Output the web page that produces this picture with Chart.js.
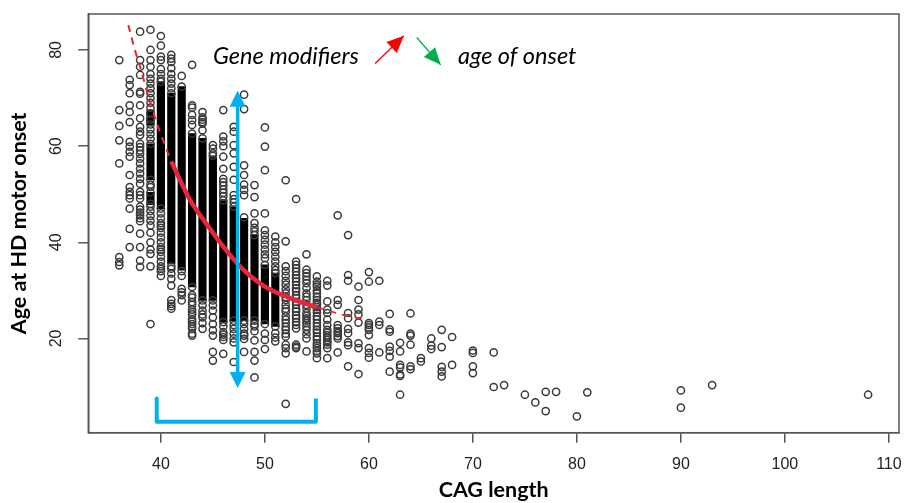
<!DOCTYPE html>
<html>
<head>
<meta charset="utf-8">
<title>Age at HD motor onset vs CAG length</title>
<script src="https://cdn.jsdelivr.net/npm/chart.js@4"></script>
<style>
  html, body { margin: 0; background: #fff; }
  canvas { display: block; }
</style>
</head>
<body>
<canvas id="chart" width="906" height="503"></canvas>
<script>
const xTicks = [40, 50, 60, 70, 80, 90, 100, 110];
const yTicks = [20, 40, 60, 80];

// open circles, ages read per CAG length
const cagLengths = [36, 37, 38, 39, 40, 41, 42, 43, 44, 45, 46, 47, 48, 49, 50, 51, 52, 53, 54, 55, 56, 57, 58, 59, 60, 61, 62, 63, 64, 65, 66, 67, 68, 70, 72, 73, 75, 76, 77, 78, 80, 81, 90, 93, 108];
const onsetAges = [
  [77.9, 67.5, 64.2, 61.2, 56.4, 36.9, 35.9, 35.2],
  [73.8, 72.7, 71, 68.5, 67.1, 65, 60.9, 59.9, 58.8, 57.8, 54, 51.5, 50.5, 49.8, 49.1, 47, 42.8, 39],
  [83.8, 77.9, 76.5, 74.8, 71.3, 70.9, 68.5, 65.8, 64, 63, 62.3, 60.5, 59.8, 59.1, 58.4, 57.4, 56.4, 55.3, 54.3, 53.2, 52.2, 50.5, 49.8, 49.1, 47.4, 46.8, 46.2, 45.6, 45, 44.4, 41.8, 39, 36.2, 34.9],
  [84.2, 80, 77.9, 76.5, 75, 74, 73, 72, 71, 70, 69, 68, 66.8, 65.5, 64.5, 63.5, 62.5, 61.5, 60.5, 53, 52, 51.5, 50.4, 48, 47.4, 46.5, 45.5, 44.5, 43.5, 42, 40, 38.5, 37.6, 35, 23],
  [82.9, 80.9, 78.6, 77.9, 76, 75, 74, 73.4, 47, 46, 45, 44, 43.5, 43, 42, 41, 40, 39, 38.5, 38, 37, 36, 35, 34.5, 34, 33],
  [79, 78.2, 77.5, 76.2, 75, 74, 73, 72, 71, 35, 34.5, 33.5, 32.4, 31, 28, 27.2, 26.7, 26.2],
  [74.6, 72.4, 34, 33, 30.3, 29.6, 29, 27.9],
  [76.9, 68.5, 68, 66.5, 65.4, 64.4, 62.6, 30.7, 29, 28.5, 27.6, 27, 26, 25.5, 25, 24, 23.5, 23, 22.5, 22, 21, 20.6],
  [67.1, 66, 65.5, 65, 64.7, 63.3, 61.6, 27.9, 26.9, 25.8, 25, 24.4, 23.2, 22],
  [60.2, 59.5, 58.5, 58, 27.9, 26.9, 25.8, 24.4, 23, 21.7, 20.6, 17.2, 15.4],
  [67.5, 62, 61, 60, 57.8, 55.3, 53.2, 52.5, 51.8, 51, 50.3, 49.6, 48.7, 23.4, 22.5, 21.3, 20.8, 20.3, 19.7, 16.8],
  [64, 63, 60.2, 58.5, 55.7, 53, 49.8, 49, 48.3, 47.4, 23.7, 22.8, 22, 21, 20, 19.2, 15.1],
  [70.7, 67.7, 56, 54, 52, 50.9, 49.8, 45.2, 23.7, 23, 22, 21, 20.6, 19.9, 17.2],
  [51.9, 49.4, 46, 44, 43, 42.3, 41.5, 23.7, 23, 22.5, 21.5, 19.6, 17.2, 15.4, 11.9],
  [63.9, 59.9, 55, 46, 42.5, 41.5, 40.5, 39.5, 38.5, 37.5, 36.7, 35.3, 23, 21, 19.7, 17.8],
  [41.2, 40, 39, 38, 37, 36, 35, 34.2, 33.6, 22.5, 21.1, 20.2, 19.4],
  [52.9, 40.2, 35, 34, 33, 32, 31.2, 30.2, 29.4, 28.6, 28, 27, 26.2, 25.6, 24.6, 23.9, 23.2, 22.4, 21.8, 21, 20.4, 18.7, 18, 16.9, 6.4],
  [49, 36, 35.3, 34.6, 33.9, 33.2, 32.5, 31.8, 31.1, 30.4, 29.8, 29, 28.4, 27.6, 27, 26.2, 25.6, 24.8, 24.2, 23.4, 22.8, 22.1, 18.7, 18.3, 18],
  [37.5, 34.3, 33.6, 32.9, 32.2, 31.5, 30.5, 29.4, 28.7, 28, 27, 26.2, 25.3, 24.7, 24.2, 23.7, 23.2, 22.5, 21.8, 20.9, 20, 17.3],
  [32.9, 31.8, 31.2, 30.8, 30, 29.4, 28.7, 28, 27.4, 27, 26.5, 26, 25.4, 24.6, 24, 23.2, 22.5, 21.8, 21.2, 20.4, 19.8, 19, 18.5, 18, 17.4, 16.9, 15.9],
  [32, 31, 27.7, 26, 25.3, 23.9, 22.8, 21.8, 21.2, 20.7, 20.2, 19.7, 19.2, 18.7, 18, 15.9],
  [45.6, 28, 27, 22.8, 22.1, 21.5, 21.1, 20.5, 20, 17.1],
  [41.5, 33.2, 32, 25.3, 24.2, 22, 21.1, 19.2, 18.6, 14.2],
  [30.8, 28, 26, 25, 23.3, 19, 18, 12.6],
  [33.8, 31.8, 23.2, 22.8, 22.3, 21.8, 20.7, 18, 17, 16],
  [32, 23.5, 22.8, 17.1],
  [25.1, 21.9, 21.4, 18.3, 17.4, 16.2, 13.1],
  [19.1, 17.3, 14.5, 14, 12.5, 12.2, 8.3],
  [25.2, 21, 20.6, 18.7, 14.2, 13.6],
  [15.9, 15.2],
  [20, 18.5, 17.8],
  [21.8, 18.2, 14.1, 13.1, 12.1],
  [20.3, 14.5],
  [17.5, 17, 14.2, 12.8],
  [17.1, 9.9],
  [10.3],
  [8.3],
  [6.7],
  [8.9, 4.9],
  [8.9],
  [3.8],
  [8.8],
  [9.2, 5.6],
  [10.3],
  [8.3]
];

// solid black runs where the circles merge
const denseCag = [39, 39, 39, 40, 41, 42, 43, 44, 45, 46, 47, 48, 49, 50, 51];
const denseLow = [64.4, 53, 47.8, 47, 35.5, 34.2, 30.7, 27.9, 27.9, 23.4, 23.7, 23.7, 23.7, 23, 22.5];
const denseHigh = [67.5, 60.5, 50.4, 73.4, 71, 72.4, 62.6, 61.6, 58, 48.7, 47.4, 45, 41.5, 35.3, 33.6];

// fitted curve, dashed outside the 40-55 range
const upperCurveCag = [36.87, 37.5, 38, 38.8, 39.9, 41];
const upperCurveAge = [85.2, 80, 76.5, 70.3, 63, 56.8];
const solidCurveCag = [41, 42.8, 44.7, 46, 47.6, 49.85, 52.4, 55];
const solidCurveAge = [56.8, 48.8, 42.9, 39.1, 35, 31, 28.4, 26.5];
const lowerCurveCag = [55, 57.5, 59.5];
const lowerCurveAge = [26.5, 24.9, 24];

// annotations, in axis units
const bracketCag = [39.6, 39.6, 54.9, 54.9];
const bracketAge = [7.5, 2.7, 2.7, 7.5];
const spreadArrow = { cag: 47.38, top: 71.5, bottom: 9.7 };
const redArrow = { from: [60.6, 77.2], to: [63.36, 82.97] };
const greenArrow = { from: [64.6, 82.6], to: [66.9, 76.9] };
const noteLeft = { text: 'Gene modifiers', cag: 45, age: 77 };
const noteRight = { text: 'age of onset', cag: 68.57, age: 77 };

const BLUE = '#00b0f0';
const RED_CURVE = '#e4283a';
const LABEL_FONT = 'Liberation Sans';
const NOTE_FONT = 'Lato';

const toPoints = (xs, ys) => xs.map((x, i) => ({ x, y: ys[i] }));

const circlePoints = cagLengths.flatMap((cag, i) => onsetAges[i].map((age) => ({ x: cag, y: age })));
const densePoints = denseCag.map((cag, i) => ({ x: cag, y: [denseLow[i], denseHigh[i]] }));

const arrowHead = (ctx, x0, y0, x1, y1, length, width, color) => {
  const a = Math.atan2(y1 - y0, x1 - x0);
  ctx.save();
  ctx.translate(x1, y1);
  ctx.rotate(a);
  ctx.fillStyle = color;
  ctx.beginPath();
  ctx.moveTo(0, 0);
  ctx.lineTo(-length, -width / 2);
  ctx.lineTo(-length, width / 2);
  ctx.closePath();
  ctx.fill();
  ctx.restore();
};

const drawThinArrow = (ctx, x, y, arrow, color) => {
  const x0 = x.getPixelForValue(arrow.from[0]);
  const y0 = y.getPixelForValue(arrow.from[1]);
  const x1 = x.getPixelForValue(arrow.to[0]);
  const y1 = y.getPixelForValue(arrow.to[1]);
  ctx.strokeStyle = color;
  ctx.lineWidth = 1.3;
  ctx.beginPath();
  ctx.moveTo(x0, y0);
  ctx.lineTo(x1, y1);
  ctx.stroke();
  arrowHead(ctx, x0, y0, x1, y1, 17, 15, color);
};

const overlay = {
  id: 'overlay',
  afterDatasetsDraw(chart) {
    const { ctx, chartArea, scales: { x, y } } = chart;
    ctx.save();

    // blue double arrow
    const ax = x.getPixelForValue(spreadArrow.cag);
    const top = y.getPixelForValue(spreadArrow.top);
    const bottom = y.getPixelForValue(spreadArrow.bottom);
    ctx.strokeStyle = BLUE;
    ctx.lineWidth = 3.5;
    ctx.beginPath();
    ctx.moveTo(ax, top + 10);
    ctx.lineTo(ax, bottom - 10);
    ctx.stroke();
    arrowHead(ctx, ax, bottom, ax, top, 16, 16, BLUE);
    arrowHead(ctx, ax, top, ax, bottom, 16, 16, BLUE);

    drawThinArrow(ctx, x, y, redArrow, '#ff0000');
    drawThinArrow(ctx, x, y, greenArrow, '#00b050');

    ctx.fillStyle = '#000';
    ctx.font = `italic 23.5px ${NOTE_FONT}`;
    ctx.textBaseline = 'alphabetic';
    [noteLeft, noteRight].forEach((n) => {
      ctx.fillText(n.text, x.getPixelForValue(n.cag), y.getPixelForValue(n.age));
    });

    // box around the plot
    ctx.strokeStyle = '#555';
    ctx.lineWidth = 1.5;
    ctx.strokeRect(chartArea.left, chartArea.top, chartArea.right - chartArea.left, chartArea.bottom - chartArea.top);
    ctx.restore();
  }
};

// axis sizes are fixed, no extra room for the end labels
const fixAxis = (scale, size) => {
  if (scale.isHorizontal()) {
    scale.height = size;
  } else {
    scale.width = size;
  }
  scale.paddingLeft = scale.paddingRight = scale.paddingTop = scale.paddingBottom = 0;
};

new Chart(document.getElementById('chart'), {
  type: 'scatter',
  data: {
    datasets: [
      {
        type: 'bar',
        data: densePoints,
        backgroundColor: '#000',
        barThickness: 7.5,
        order: 6
      },
      {
        type: 'scatter',
        data: circlePoints,
        pointStyle: 'circle',
        pointRadius: 3.6,
        pointBorderWidth: 1.5,
        pointBorderColor: '#3a3a3a',
        pointBackgroundColor: 'transparent',
        order: 5
      },
      {
        type: 'line',
        data: toPoints(upperCurveCag, upperCurveAge),
        borderColor: RED_CURVE,
        borderWidth: 2,
        borderDash: [7, 6],
        pointRadius: 0,
        cubicInterpolationMode: 'monotone',
        order: 3
      },
      {
        type: 'line',
        data: toPoints(solidCurveCag, solidCurveAge),
        borderColor: RED_CURVE,
        borderWidth: 4.5,
        pointRadius: 0,
        cubicInterpolationMode: 'monotone',
        order: 2
      },
      {
        type: 'line',
        data: toPoints(lowerCurveCag, lowerCurveAge),
        borderColor: RED_CURVE,
        borderWidth: 1.6,
        borderDash: [7, 6],
        pointRadius: 0,
        cubicInterpolationMode: 'monotone',
        order: 3
      },
      {
        type: 'line',
        data: toPoints(bracketCag, bracketAge),
        borderColor: BLUE,
        borderWidth: 4,
        borderJoinStyle: 'round',
        pointRadius: 0,
        tension: 0,
        order: 1
      }
    ]
  },
  options: {
    responsive: false,
    animation: false,
    layout: { padding: { top: 14, right: 7, left: 0, bottom: 0 } },
    plugins: { legend: { display: false }, tooltip: { enabled: false } },
    scales: {
      x: {
        type: 'linear',
        offset: false,
        min: 33.02,
        max: 110.97,
        afterBuildTicks: (scale) => { scale.ticks = xTicks.map((value) => ({ value })); },
        afterFit: (scale) => fixAxis(scale, 70.3),
        border: { color: '#555', width: 1.5 },
        grid: { drawOnChartArea: false, offset: false, color: '#555', lineWidth: 1.5, tickLength: 10 },
        ticks: {
          color: '#222',
          padding: 12,
          maxRotation: 0,
          autoSkip: false,
          font: { family: LABEL_FONT, size: 16 }
        },
        title: {
          display: true,
          text: 'CAG length',
          color: '#000',
          font: { family: NOTE_FONT, size: 21.5, weight: 'bold' },
          padding: { top: 0, bottom: 0 }
        }
      },
      y: {
        type: 'linear',
        min: 0.4,
        max: 87.48,
        afterBuildTicks: (scale) => { scale.ticks = yTicks.map((value) => ({ value })); },
        afterFit: (scale) => fixAxis(scale, 88.3),
        border: { color: '#555', width: 1.5 },
        grid: { drawOnChartArea: false, color: '#555', lineWidth: 1.5, tickLength: 10 },
        ticks: {
          color: '#222',
          padding: 12.4,
          minRotation: 90,
          maxRotation: 90,
          autoSkip: false,
          crossAlign: 'center',
          font: { family: LABEL_FONT, size: 16 }
        },
        title: {
          display: true,
          text: 'Age at HD motor onset',
          color: '#000',
          font: { family: NOTE_FONT, size: 21.5, weight: 'bold' },
          padding: { top: 6, bottom: 0 }
        }
      }
    }
  },
  plugins: [overlay]
});
</script>
</body>
</html>
